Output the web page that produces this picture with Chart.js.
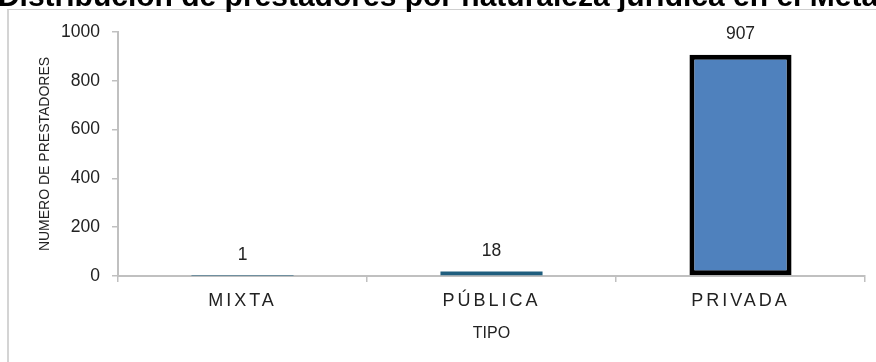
<!DOCTYPE html>
<html lang="es">
<head>
<meta charset="utf-8">
<title>Distribución de prestadores por naturaleza jurídica en el Meta</title>
<script src="https://cdn.jsdelivr.net/npm/chart.js@4.4.1/dist/chart.umd.min.js"></script>
<style>
  html, body { margin: 0; padding: 0; background: #ffffff; }
  body { width: 876px; height: 362px; position: relative; overflow: hidden; }
  #frame {
    position: absolute; left: 7px; top: 9px; width: 900px; height: 400px;
    border-top: 1px solid #cfcfcf; border-left: 2px solid #d4d4d4;
  }
  #wrap { position: absolute; left: 0; top: 0; width: 876px; height: 362px; }
</style>
</head>
<body>
<div id="frame"></div>
<div id="wrap"><canvas id="chart"></canvas></div>
<script>
// Prestadores por naturaleza jurídica
const chartTitle = 'Distribución de prestadores por naturaleza jurídica en el Meta';
const categories = ['MIXTA', 'PÚBLICA', 'PRIVADA'];
const prestadores = [1, 18, 907];
const yTicks = [0, 200, 400, 600, 800, 1000];

const FONT = "'Liberation Sans', Arial, sans-serif";
const barFill = ['#1F5E7E', '#1F5E7E', '#4F81BD'];
const barEdge = ['#1F5E7E', '#1F5E7E', '#000000'];
const barEdgeWidth = [0, 0, 5];

// Heading drawn at its natural width, centred on the canvas and free to run past the edges
const wideTitle = {
  id: 'wideTitle',
  afterDraw(chart) {
    const ctx = chart.ctx;
    ctx.save();
    ctx.letterSpacing = '0px';
    ctx.font = 'bold 30px ' + FONT;
    ctx.fillStyle = '#000000';
    ctx.textAlign = 'center';
    ctx.textBaseline = 'alphabetic';
    ctx.fillText(chartTitle, chart.width / 2, chart.chartArea.top - 26);
    ctx.restore();
  }
};

// Value labels above each bar, then spaced lettering for the category axis
const valueLabels = {
  id: 'valueLabels',
  afterDatasetsDraw(chart) {
    const ctx = chart.ctx;
    const meta = chart.getDatasetMeta(0);
    ctx.save();
    ctx.letterSpacing = '0px';
    ctx.font = '17.5px ' + FONT;
    ctx.fillStyle = '#222222';
    ctx.textAlign = 'center';
    ctx.textBaseline = 'alphabetic';
    meta.data.forEach((bar, i) => {
      ctx.fillText(String(chart.data.datasets[0].data[i]), bar.x, bar.y - 16);
    });
    ctx.restore();
    ctx.letterSpacing = '3px';
  },
  afterDraw(chart) {
    chart.ctx.letterSpacing = '0px';
  }
};

new Chart(document.getElementById('chart'), {
  type: 'bar',
  data: {
    labels: categories,
    datasets: [{
      data: prestadores,
      backgroundColor: barFill,
      borderColor: barEdge,
      borderWidth: barEdgeWidth,
      borderSkipped: false,
      barPercentage: 0.41,
      categoryPercentage: 1
    }]
  },
  options: {
    responsive: true,
    maintainAspectRatio: false,
    animation: false,
    events: [],
    layout: { padding: { left: 0, right: 11, top: 32, bottom: 0 } },
    plugins: {
      legend: { display: false },
      tooltip: { enabled: false },
      title: { display: false }
    },
    scales: {
      x: {
        offset: true,
        afterFit(scale) { scale.height = 86; },
        grid: {
          display: true, drawOnChartArea: false, drawTicks: true,
          tickLength: 6, offset: true, color: '#c0c0c0', lineWidth: 1.5
        },
        border: { display: true, color: '#c0c0c0', width: 2 },
        ticks: {
          z: 1, autoSkip: false, maxRotation: 0, padding: 8,
          color: '#222222', font: { family: FONT, size: 18 }
        },
        title: {
          display: true, text: 'TIPO', color: '#222222',
          font: { family: FONT, size: 16 }, padding: { top: 0, bottom: 19 }
        }
      },
      y: {
        min: 0,
        max: 1000,
        afterFit(scale) { scale.width = 118; },
        afterBuildTicks(scale) { scale.ticks = yTicks.map(v => ({ value: v })); },
        grid: {
          display: true, drawOnChartArea: false, drawTicks: true,
          tickLength: 6, color: '#c0c0c0', lineWidth: 1.5
        },
        border: { display: true, color: '#c0c0c0', width: 2 },
        ticks: {
          padding: 12, color: '#222222', font: { family: FONT, size: 17.5 },
          callback: (value) => String(value)
        },
        title: {
          display: true, text: 'NUMERO DE PRESTADORES', color: '#222222',
          font: { family: FONT, size: 14 }, padding: { top: 37, bottom: 0 }
        }
      }
    }
  },
  plugins: [wideTitle, valueLabels]
});
</script>
</body>
</html>
